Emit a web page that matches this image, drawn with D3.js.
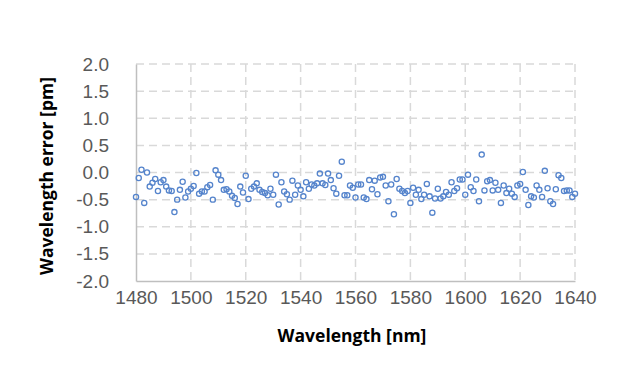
<!DOCTYPE html>
<html>
<head>
<meta charset="utf-8">
<script src="https://cdn.jsdelivr.net/npm/d3@7/dist/d3.min.js"></script>
<style>
  html, body { margin: 0; padding: 0; background: #ffffff; }
  svg { display: block; }
</style>
</head>
<body>
<svg id="chart" width="640" height="380"></svg>
<script>
const wavelengths = [
  1480,1481,1482,1483,1484,1485,1486,1487,1488,1489,
  1490,1491,1492,1493,1494,1495,1496,1497,1498,1499,
  1500,1501,1502,1503,1504,1505,1506,1507,1508,1509,
  1510,1511,1512,1513,1514,1515,1516,1517,1518,1519,
  1520,1521,1522,1523,1524,1525,1526,1527,1528,1529,
  1530,1531,1532,1533,1534,1535,1536,1537,1538,1539,
  1540,1541,1542,1543,1544,1545,1546,1547,1548,1549,
  1550,1551,1552,1553,1554,1555,1556,1557,1558,1559,
  1560,1561,1562,1563,1564,1565,1566,1567,1568,1569,
  1570,1571,1572,1573,1574,1575,1576,1577,1578,1579,
  1580,1581,1582,1583,1584,1585,1586,1587,1588,1589,
  1590,1591,1592,1593,1594,1595,1596,1597,1598,1599,
  1600,1601,1602,1603,1604,1605,1606,1607,1608,1609,
  1610,1611,1612,1613,1614,1615,1616,1617,1618,1619,
  1620,1621,1622,1623,1624,1625,1626,1627,1628,1629,
  1630,1631,1632,1633,1634,1635,1636,1637,1638,1639,
  1640
];
const errors = [
  -0.45,-0.10, 0.05,-0.56, 0.00,-0.26,-0.19,-0.12,-0.34,-0.18,
  -0.14,-0.26,-0.33,-0.34,-0.73,-0.50,-0.32,-0.17,-0.46,-0.35,
  -0.30,-0.25,-0.01,-0.39,-0.35,-0.35,-0.27,-0.23,-0.50, 0.04,
  -0.04,-0.14,-0.32,-0.31,-0.35,-0.43,-0.47,-0.58,-0.26,-0.37,
  -0.06,-0.49,-0.30,-0.26,-0.20,-0.32,-0.36,-0.38,-0.42,-0.30,
  -0.41,-0.04,-0.59,-0.18,-0.35,-0.40,-0.50,-0.15,-0.41,-0.24,
  -0.32,-0.44,-0.18,-0.30,-0.22,-0.24,-0.20,-0.02,-0.20,-0.23,
  -0.02,-0.14,-0.29,-0.39,-0.06, 0.20,-0.42,-0.42,-0.24,-0.28,
  -0.46,-0.22,-0.22,-0.46,-0.49,-0.14,-0.31,-0.15,-0.40,-0.09,
  -0.08,-0.24,-0.53,-0.22,-0.77,-0.12,-0.30,-0.34,-0.38,-0.34,
  -0.56,-0.28,-0.41,-0.32,-0.49,-0.41,-0.21,-0.44,-0.74,-0.48,
  -0.30,-0.48,-0.44,-0.36,-0.41,-0.18,-0.34,-0.29,-0.13,-0.13,
  -0.41,-0.04,-0.27,-0.34,-0.13,-0.53, 0.33,-0.33,-0.16,-0.14,
  -0.33,-0.19,-0.32,-0.56,-0.24,-0.38,-0.30,-0.39,-0.45,-0.24,
  -0.21, 0.01,-0.32,-0.60,-0.44,-0.46,-0.24,-0.32,-0.45, 0.03,
  -0.29,-0.53,-0.58,-0.31,-0.05,-0.10,-0.34,-0.33,-0.33,-0.45,
  -0.39
];
const xTicks = [1480, 1500, 1520, 1540, 1560, 1580, 1600, 1620, 1640];
const yTicks = [-2.0, -1.5, -1.0, -0.5, 0.0, 0.5, 1.0, 1.5, 2.0];
const xTitle = "Wavelength [nm]";
const yTitle = "Wavelength error [pm]";

(function () {
const svg = d3.select("#chart");
const pl = 136, pr = 575, pt = 64, pb = 281;

const x = d3.scaleLinear().domain([1480, 1640]).range([pl, pr]);
const y = d3.scaleLinear().domain([-2, 2]).range([pb, pt]);

const gridColor = "#D9D9D9";
const axisColor = "#BFBFBF";
const tickFont = "'Liberation Sans', Arial, sans-serif";
const titleFont = "'Open Sans', 'Noto Sans', sans-serif";

// horizontal gridlines
svg.append("g").selectAll("line")
  .data(yTicks.filter(v => v > -2))
  .join("line")
  .attr("x1", pl).attr("x2", pr)
  .attr("y1", d => y(d)).attr("y2", d => y(d))
  .attr("stroke", gridColor).attr("stroke-width", 1.5)
  .attr("stroke-dasharray", "8,5");

// vertical gridlines
svg.append("g").selectAll("line")
  .data(xTicks.filter(v => v > 1480))
  .join("line")
  .attr("x1", d => x(d)).attr("x2", d => x(d))
  .attr("y1", pt).attr("y2", pb)
  .attr("stroke", gridColor).attr("stroke-width", 1.5)
  .attr("stroke-dasharray", "8,5");

// axes
const xAxis = d3.axisBottom(x).tickValues(xTicks).tickSize(0).tickPadding(10)
  .tickFormat(d3.format("d"));
const gx = svg.append("g").attr("transform", `translate(0,${pb})`).call(xAxis);
gx.select(".domain").attr("stroke", axisColor).attr("stroke-width", 1.5);
gx.selectAll("text").attr("fill", "#595959").attr("font-size", 19)
  .attr("font-family", tickFont);

const yAxis = d3.axisLeft(y).tickValues(yTicks).tickSize(0).tickPadding(27)
  .tickFormat(d => d3.format(".1f")(d).replace("\u2212", "-"));
const gy = svg.append("g").attr("transform", `translate(${pl},0)`).call(yAxis);
gy.select(".domain").attr("stroke", axisColor).attr("stroke-width", 1.5);
gy.selectAll("text").attr("fill", "#595959").attr("font-size", 19)
  .attr("font-family", tickFont);

// points
svg.append("g").selectAll("circle")
  .data(wavelengths.map((w, i) => ({ w, e: errors[i] })))
  .join("circle")
  .attr("cx", d => x(d.w))
  .attr("cy", d => y(d.e))
  .attr("r", 2.6)
  .attr("fill", "none")
  .attr("stroke", "#5584CC")
  .attr("stroke-width", 1.3);

// titles
svg.append("text")
  .attr("x", 352).attr("y", 342)
  .attr("text-anchor", "middle")
  .attr("font-family", titleFont).attr("font-weight", "bold")
  .attr("font-size", 17.5).attr("fill", "#000")
  .text(xTitle);

svg.append("text")
  .attr("transform", `translate(53,176) rotate(-90)`)
  .attr("text-anchor", "middle")
  .attr("font-family", titleFont).attr("font-weight", "bold")
  .attr("font-size", 17.5).attr("fill", "#000")
  .text(yTitle);
})();
</script>
</body>
</html>
